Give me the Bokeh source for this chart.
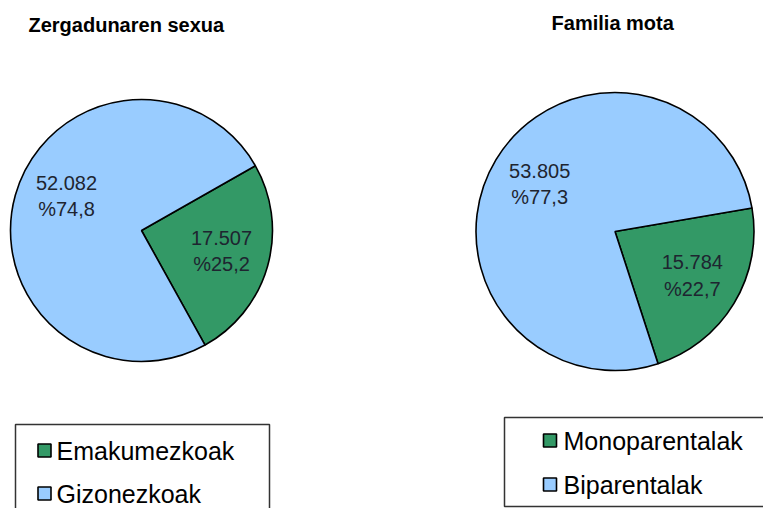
import math
from bokeh.plotting import figure
from bokeh.models import Range1d, ColumnDataSource
from bokeh.core.properties import value
from bokeh.embed import file_html
from bokeh.resources import INLINE

# ---------------- data ----------------
titles = ["Zergadunaren  sexua", "Familia  mota"]
left_labels = ["Emakumezkoak", "Gizonezkoak"]
left_values = [17507, 52082]
right_labels = ["Monoparentalak", "Biparentalak"]
right_values = [15784, 53805]
colors = ["#339966", "#99CCFF"]

# ---------------- layout ----------------
W, H = 763, 508
FONT = "Liberation Sans"
TEXT_COL = "#1e2530"

p = figure(width=W, height=H, output_backend="svg", toolbar_location=None,
           x_range=Range1d(0, W), y_range=Range1d(0, H),
           x_axis_location=None, y_axis_location=None, min_border=0)
p.grid.visible = False
p.outline_line_color = None
p.background_fill_color = "white"
p.border_fill_color = "white"


def Y(py):  # picture y (from top) -> data y
    return H - py


def X(px):
    return px


def fmt_num(v):
    return f"{v:,}".replace(",", ".")


def fmt_pct(v, tot):
    return "%" + f"{100 * v / tot:.1f}".replace(".", ",")


def draw_pie(cx, cy, r, vals, start_deg, label_frac, label_shift_deg):
    tot = sum(vals)
    a = math.radians(start_deg)
    starts, ends, lx, ly, txt = [], [], [], [], []
    for v, sh in zip(vals, label_shift_deg):
        span = 2 * math.pi * v / tot
        b = a - span
        starts.append(b)
        ends.append(a)
        mid = (a + b) / 2 + math.radians(sh)
        lx.append(cx + r * label_frac * math.cos(mid))
        ly.append(cy + r * label_frac * math.sin(mid))
        txt.append(fmt_num(v) + "\n" + fmt_pct(v, tot))
        a = b
    src = ColumnDataSource(dict(s=starts, e=ends, c=colors[:len(vals)]))
    p.wedge(x=cx, y=cy, radius=r, start_angle="s", end_angle="e",
            direction="anticlock", fill_color="c", line_color="black",
            line_width=1.6, source=src)
    p.text(x=lx, y=ly, text=txt, text_align="center", text_baseline="middle",
           text_font=value(FONT), text_font_size="20px", text_color=TEXT_COL,
           text_line_height=1.2)


draw_pie(X(141), Y(230), 131, left_values, 29.6, 0.63, [1.5, -9])
draw_pie(X(614.5), Y(231), 139, right_values, 9.7, 0.64, [1.5, -1])

# titles
p.text(x=[X(28)], y=[Y(24)], text=[titles[0]], text_align="left",
       text_baseline="middle", text_font=value(FONT), text_font_style="bold",
       text_font_size="20px", text_color="black")
p.text(x=[X(615)], y=[Y(22)], text=[titles[1]], text_align="center",
       text_baseline="middle", text_font=value(FONT), text_font_style="bold",
       text_font_size="20px", text_color="black")


def draw_legend(x0, x1, y0, y1, sq_x, txt_x, rows_y, labels):
    p.quad(left=[X(x0)], right=[X(x1)], top=[Y(y0)], bottom=[Y(y1)],
           fill_color=None, line_color="#333333", line_width=1.5)
    p.rect(x=[X(sq_x)] * len(labels), y=[Y(v) for v in rows_y], width=13,
           height=13, fill_color=colors[:len(labels)], line_color="black",
           line_width=1.6)
    p.text(x=[X(txt_x)] * len(labels), y=[Y(v) for v in rows_y], text=labels,
           text_align="left", text_baseline="middle", text_font=value(FONT),
           text_font_size="25px", text_color="black")


draw_legend(15, 269, 424, 540, 44, 56, [450, 493], left_labels)
draw_legend(504, 800, 417, 506, 549.5, 563, [440, 484], right_labels)

open("out.html", "w").write(file_html(p, INLINE))
